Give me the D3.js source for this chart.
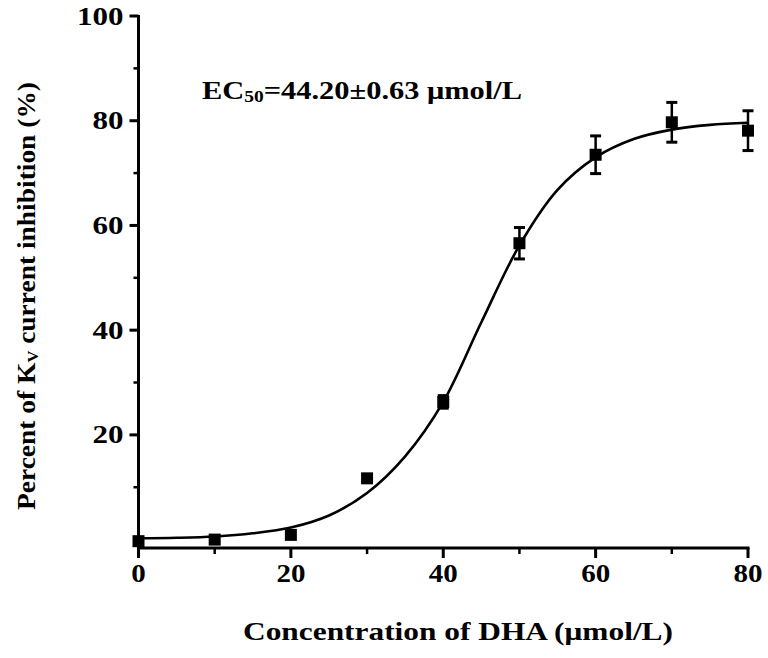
<!DOCTYPE html>
<html>
<head>
<meta charset="utf-8">
<script src="https://cdn.jsdelivr.net/npm/d3@7"></script>
<style>
  html, body { margin: 0; padding: 0; background: #fff; }
  svg { display: block; }
  text { font-family: "Liberation Serif", "Times New Roman", serif; font-weight: bold; fill: #000; }
</style>
</head>
<body>
<svg id="chart" width="768" height="658"></svg>
<script>
// ---- data ----
const concentrations = [0, 10, 20, 30, 40, 50, 60, 70, 80];
const inhibition     = [-0.3, 0.0, 0.9, 11.7, 26.3, 56.6, 73.5, 79.7, 78.1];
const errors         = [0, 0, 0, 0, 1.2, 3.0, 3.6, 3.8, 3.8];

// fitted curve, points
const fitX = [0, 5, 10, 15, 20, 25, 30, 35, 40, 45, 50, 55, 60, 65, 70, 75, 80];
const fitY = [0.25, 0.35, 0.6, 1.2, 2.3, 4.6, 8.9, 15.9, 26.3, 41.5, 56.2, 66.8, 73.0, 76.5, 78.3, 79.2, 79.6];

const xMajorTicks = [0, 20, 40, 60, 80];
const xMinorTicks = [10, 30, 50, 70];
const yMajorTicks = [20, 40, 60, 80, 100];
const yMinorTicks = [10, 30, 50, 70, 90];

const xTitle = "Concentration of DHA (μmol/L)";
const annotation = { main: "EC", sub: "50", rest: "=44.20±0.63 μmol/L" };

// ---- layout ----
const svg = d3.select("#chart");
const x = d3.scaleLinear().domain([0, 80]).range([138.5, 748]);
const y = d3.scaleLinear().domain([0, 100]).range([539.6, 16]);
const yBottom = -1.6; // x axis sits slightly below zero

const axisColor = "#000";
const axisW = 3;

// x axis
const xAxisY = y(yBottom);
const gx = svg.append("g").attr("transform", `translate(0,${xAxisY})`);
gx.append("line").attr("x1", x(0) - 1.5).attr("x2", x(80) + 1.5)
  .attr("stroke", axisColor).attr("stroke-width", axisW);
gx.selectAll(".maj").data(xMajorTicks).join("line")
  .attr("x1", d => x(d)).attr("x2", d => x(d)).attr("y1", 0).attr("y2", 10)
  .attr("stroke", axisColor).attr("stroke-width", 3);
gx.selectAll(".min").data(xMinorTicks).join("line")
  .attr("x1", d => x(d)).attr("x2", d => x(d)).attr("y1", 0).attr("y2", 6)
  .attr("stroke", axisColor).attr("stroke-width", 2.5);
gx.selectAll("text").data(xMajorTicks).join("text")
  .attr("x", d => x(d)).attr("y", 34)
  .attr("text-anchor", "middle").attr("font-size", 25)
  .attr("textLength", d => String(d).length * 14.5).attr("lengthAdjust", "spacingAndGlyphs")
  .text(d => d);

// y axis
const gy = svg.append("g").attr("transform", `translate(${x(0)},0)`);
gy.append("line").attr("y1", xAxisY + 1.5).attr("y2", y(100) - 1)
  .attr("stroke", axisColor).attr("stroke-width", axisW);
gy.selectAll(".maj").data(yMajorTicks).join("line")
  .attr("x1", -9).attr("x2", 0).attr("y1", d => y(d)).attr("y2", d => y(d))
  .attr("stroke", axisColor).attr("stroke-width", 3);
gy.selectAll(".min").data(yMinorTicks).join("line")
  .attr("x1", -5).attr("x2", 0).attr("y1", d => y(d)).attr("y2", d => y(d))
  .attr("stroke", axisColor).attr("stroke-width", 2.5);
gy.selectAll("text").data(yMajorTicks).join("text")
  .attr("x", -15).attr("y", d => y(d) + 8.5)
  .attr("text-anchor", "end").attr("font-size", 25)
  .attr("textLength", d => String(d).length * 15.5).attr("lengthAdjust", "spacingAndGlyphs")
  .text(d => d);

// fitted curve
const fitData = fitX.map((v, i) => [v, fitY[i]]);
svg.append("path").datum(fitData)
  .attr("fill", "none").attr("stroke", "#000").attr("stroke-width", 2.6)
  .attr("d", d3.line().x(d => x(d[0])).y(d => y(d[1])).curve(d3.curveCatmullRom.alpha(0.5)));

// error bars
const pts = concentrations.map((c, i) => ({ c, v: inhibition[i], e: errors[i] }));
const eb = svg.append("g");
pts.filter(d => d.e > 0).forEach(d => {
  eb.append("line").attr("x1", x(d.c)).attr("x2", x(d.c))
    .attr("y1", y(d.v + d.e)).attr("y2", y(d.v - d.e))
    .attr("stroke", "#000").attr("stroke-width", 2.5);
  [d.v + d.e, d.v - d.e].forEach(v => {
    eb.append("line").attr("x1", x(d.c) - 5.5).attr("x2", x(d.c) + 5.5)
      .attr("y1", y(v)).attr("y2", y(v))
      .attr("stroke", "#000").attr("stroke-width", 3);
  });
});

// markers
const ms = 12;
svg.append("g").selectAll("rect").data(pts).join("rect")
  .attr("x", d => x(d.c) - ms / 2).attr("y", d => y(d.v) - ms / 2)
  .attr("width", ms).attr("height", ms).attr("fill", "#000");

// annotation
const ann = svg.append("text").attr("x", 202).attr("y", 99).attr("font-size", 25);
ann.append("tspan").text(annotation.main);
ann.append("tspan").attr("font-size", 16).attr("dy", 3).text(annotation.sub);
ann.append("tspan").attr("dy", -3).text(annotation.rest);
ann.attr("textLength", 320).attr("lengthAdjust", "spacingAndGlyphs");

// x title
svg.append("text").attr("x", 458).attr("y", 640).attr("text-anchor", "middle")
  .attr("font-size", 25).attr("textLength", 430).attr("lengthAdjust", "spacingAndGlyphs")
  .text(xTitle);

// y title
const yt = svg.append("text")
  .attr("transform", "translate(35,296) rotate(-90)")
  .attr("text-anchor", "middle").attr("font-size", 25)
  .attr("textLength", 428).attr("lengthAdjust", "spacingAndGlyphs");
yt.append("tspan").text("Percent of K");
yt.append("tspan").attr("font-size", 15).attr("dy", 3).text("V");
yt.append("tspan").attr("dy", -3).text(" current inhibition (%)");
</script>
</body>
</html>
